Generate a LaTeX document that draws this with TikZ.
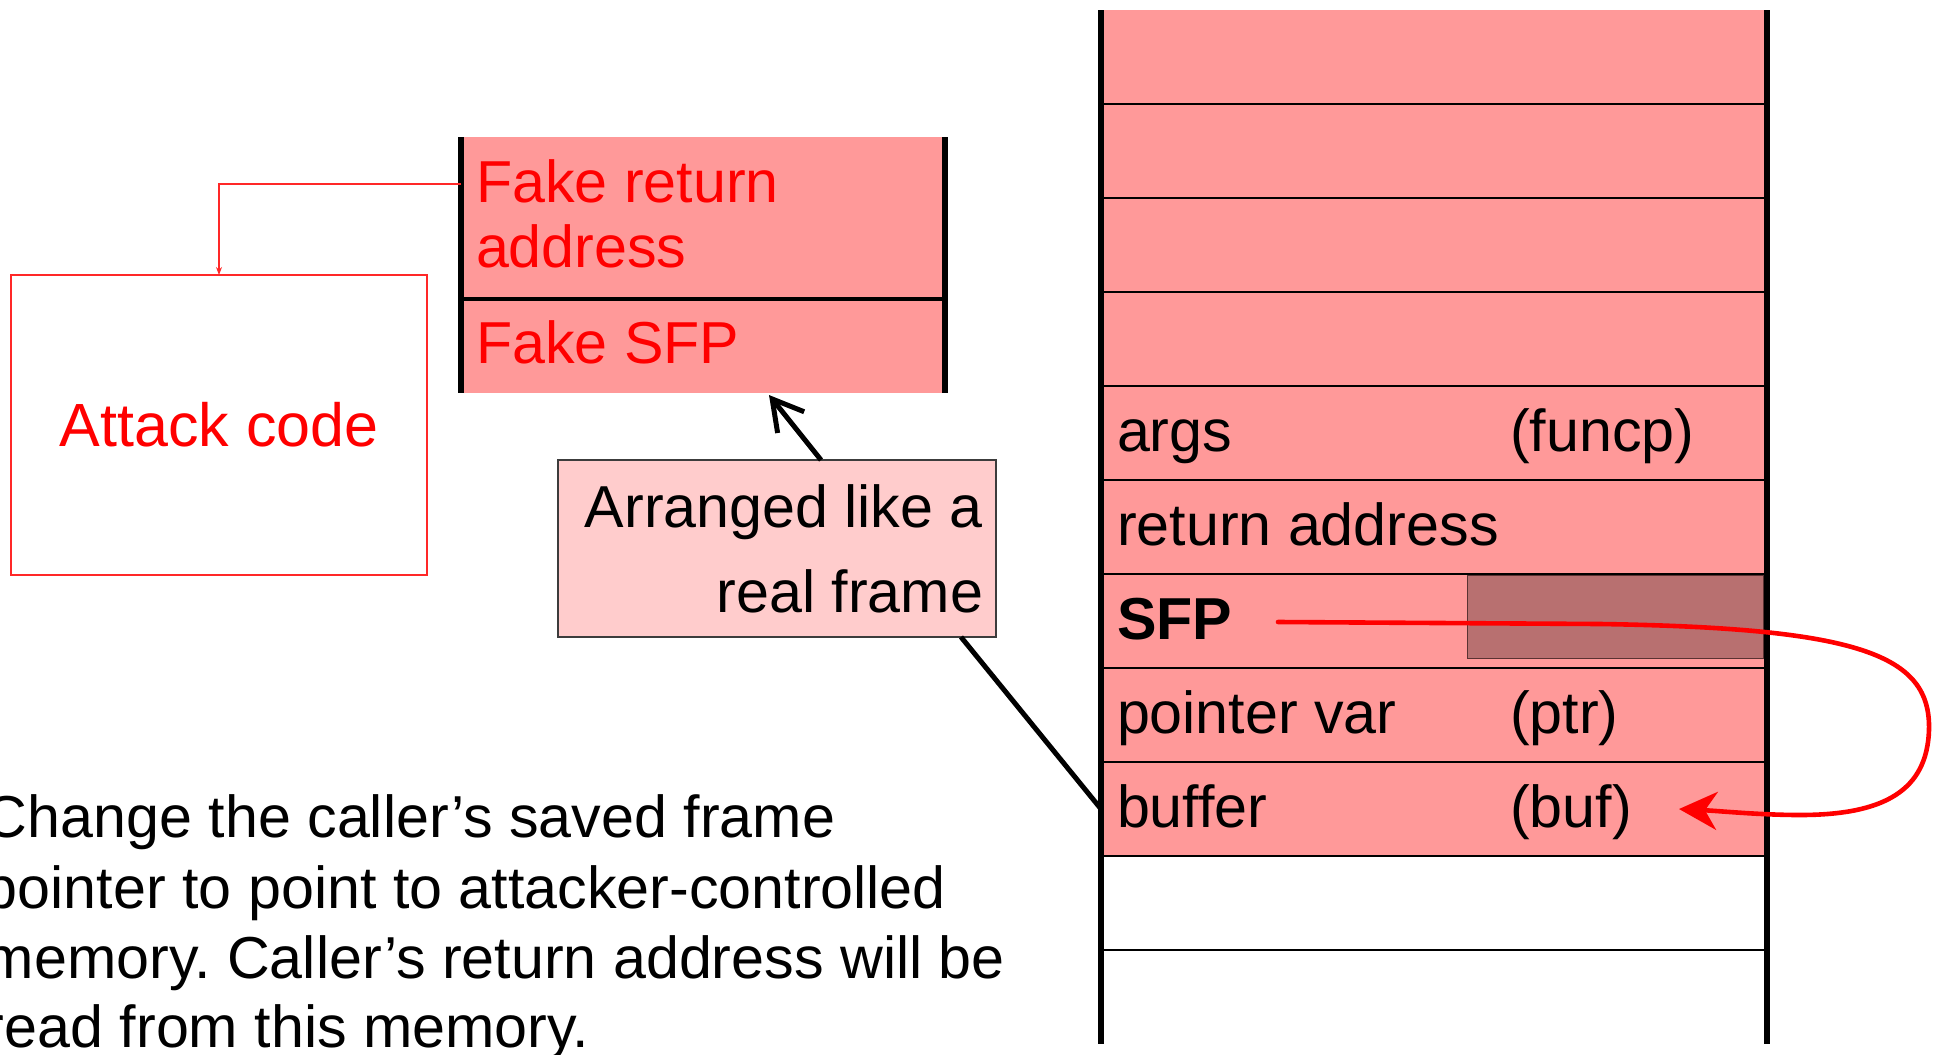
\documentclass[tikz,border=0pt]{standalone}
\usepackage{fontspec}
\setmainfont{Liberation Sans}
\usetikzlibrary{arrows.meta,calc}
\definecolor{stackpink}{RGB}{255,153,153}
\definecolor{lightpink}{RGB}{255,204,204}
\definecolor{darkbox}{RGB}{184,112,112}
\definecolor{darkboxline}{RGB}{90,50,50}
\definecolor{hotred}{RGB}{255,0,0}
\definecolor{boxred}{RGB}{255,40,40}
\definecolor{boxgray}{RGB}{60,60,60}
\frenchspacing
\begin{document}
\begin{tikzpicture}[x=0.5pt,y=-0.5pt,
  every node/.style={font=\fontsize{29.6pt}{35pt}\selectfont, inner sep=0pt, outer sep=0pt},
  row/.style={rectangle, minimum width=333pt, minimum height=47pt, draw=none},
  rowline/.style={line width=1.35pt, black},
  side/.style={line width=2.6pt, black},
  lbl/.style={anchor=base west},
  redlbl/.style={anchor=base west, text=hotred},
  fakecell/.style={rectangle, minimum width=242pt, fill=stackpink, draw=none},
]
\clip (0,0) rectangle (1944,1055);

% ---- stack ----
\foreach \k in {1,...,9} {\node[row, fill=stackpink] (r\k) at (1434,{10+94*(\k-0.5)}) {};}
\foreach \k in {10,11} {\node[row] (r\k) at (1434,{10+94*(\k-0.5)}) {};}
\node[rectangle, minimum width=148pt, minimum height=41.5pt, fill=darkbox, draw=darkboxline, line width=0.5pt] (sfpbox) at (1615,616.5) {};
\foreach \k in {1,...,10} {\draw[rowline] (r\k.south west) -- (r\k.south east);}
\draw[side] (r1.north west) -- (r11.south west);
\draw[side] (r1.north east) -- (r11.south east);

\node[lbl] (args) at (1117,451) {args};
\node[lbl] (funcp) at (1510,451) {(funcp)};
\node[lbl] (retaddr) at (1117,545) {return address};
\node[lbl, font=\fontsize{29.6pt}{35pt}\selectfont\bfseries] (sfp) at (1117,639) {SFP};
\node[lbl] (ptrvar) at (1117,733) {pointer var};
\node[lbl] (ptr) at (1510,733) {(ptr)};
\node[lbl] (buffer) at (1117,827) {buffer};
\node[lbl] (buf) at (1510,827) {(buf)};

% ---- fake frame ----
\node[fakecell, minimum height=81pt] (fr) at (703,218) {};
\node[fakecell, minimum height=47pt] (fs) at (703,346) {};
\draw[line width=1.7pt] (fr.south west) -- (fr.south east);
\draw[line width=3pt] (fr.north west) -- (fs.south west);
\draw[line width=3pt] (fr.north east) -- (fs.south east);
\node[redlbl] (fr1) at (476,202) {Fake return};
\node[redlbl] (fr2) at (476,267) {address};
\node[redlbl] (fsl) at (476,363) {Fake SFP};

% ---- attack code ----
\node[rectangle, minimum width=208pt, minimum height=150pt, draw=boxred, line width=0.7pt, text=hotred, font=\fontsize{30.5pt}{36pt}\selectfont] (atk) at (219,425) {Attack code};
\draw[draw=boxred, line width=0.6pt, -{Stealth[length=4pt,width=3pt]}] ($(fr.north west)+(0,47)$) -| (atk.north);

% ---- arranged box ----
\node[rectangle, minimum width=219pt, minimum height=88.5pt, fill=lightpink, draw=boxgray, line width=0.7pt] (arr) at (777,548.5) {};
\node[anchor=base east] (arr1) at (983,527) {Arranged like a};
\node[anchor=base east] (arr2) at (983,612) {real frame};
\draw[line width=2.5pt, -{Straight Barb[length=15pt,width=17pt,line width=2.5pt]}] ($(arr.north)+(44,0)$) -- ($(fs.south)+(66,2)$);
\draw[line width=2.5pt] ($(arr.south)+(184,0)$) -- (r9.west);

% ---- note ----
\node[lbl] (n1) at (-15,837) {Change the caller’s saved frame};
\node[lbl] (n2) at (-15,908) {pointer to point to attacker-controlled};
\node[lbl] (n3) at (-15,978) {memory. Caller’s return address will be};
\node[lbl] (n4) at (-15,1047) {read from this memory.};

% ---- red SFP arrow ----
\coordinate (sfpfrom) at (1278,622);
\coordinate (bufto) at (1679,809);
\draw[hotred, line width=2.3pt, line cap=round, -{Stealth[length=19pt,width=19pt,inset=6pt]}]
  (sfpfrom) -- (1600,624) .. controls (1860,628) and (1931,655) .. (1929,730)
  .. controls (1927,790) and (1885,815) .. (1800,815)
  .. controls (1760,815) and (1720,811) .. (bufto);
\end{tikzpicture}
\end{document}
